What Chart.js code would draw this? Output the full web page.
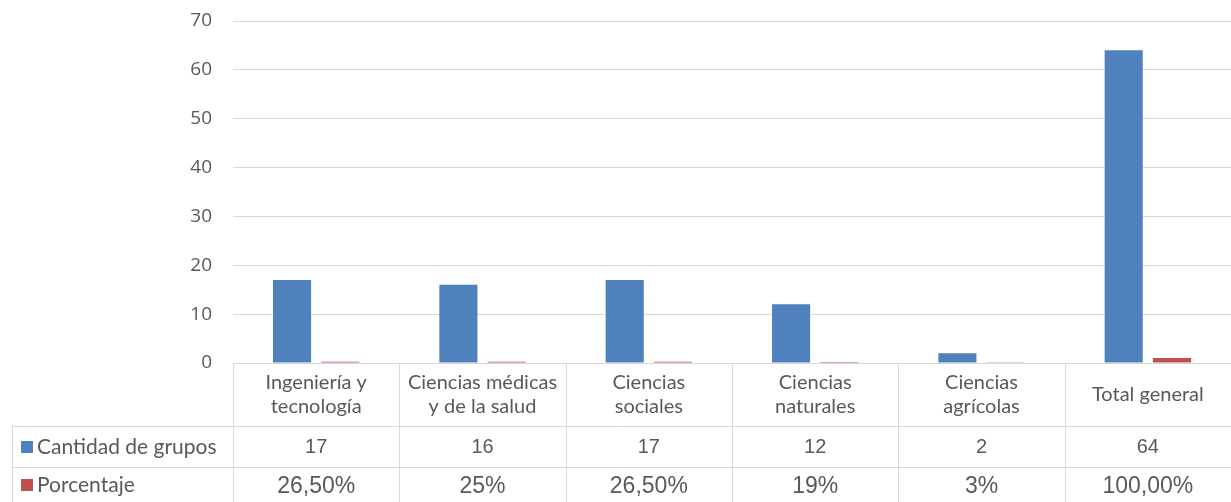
<!DOCTYPE html>
<html>
<head>
<meta charset="utf-8">
<script src="https://cdn.jsdelivr.net/npm/chart.js@4/dist/chart.umd.min.js"></script>
<style>
    body { margin: 0; background: #ffffff; }
    #chart { display: block; }
</style>
</head>
<body>
<canvas id="chart" width="1231" height="502"></canvas>
<script>
// --- Data ---
const categories = [
    ['Ingeniería y', 'tecnología'],
    ['Ciencias médicas', 'y de la salud'],
    ['Ciencias', 'sociales'],
    ['Ciencias', 'naturales'],
    ['Ciencias', 'agrícolas'],
    ['Total general']
];
const seriesNames = ['Cantidad de grupos', 'Porcentaje'];
const cantidadGrupos = [17, 16, 17, 12, 2, 64];
const porcentaje = [0.265, 0.25, 0.265, 0.19, 0.03, 1];
const porcentajeLabels = ['26,50%', '25%', '26,50%', '19%', '3%', '100,00%'];
const yTicks = [0, 10, 20, 30, 40, 50, 60, 70];

const seriesColors = ['#4f81bd', '#c0504d'];
const gridColor = '#d9d9d9';
const textColor = '#595959';

// --- Data table drawn under the plot (like Excel) ---
const dataTablePlugin = {
    id: 'dataTable',
    afterDraw(chart) {
        const ctx = chart.ctx;
        const x = chart.scales.x;
        const area = chart.chartArea;
        const n = categories.length;
        const colW = (area.right - area.left) / n;
        const tableLeft = 12;
        const headerBottom = 426;
        const row2Bottom = 467;
        const bottom = chart.height;

        ctx.save();
        ctx.strokeStyle = gridColor;
        ctx.lineWidth = 1;

        // vertical lines between categories
        for (let i = 0; i <= n; i++) {
            const px = Math.round(area.left + i * colW) + 0.5;
            ctx.beginPath();
            ctx.moveTo(px, area.bottom);
            ctx.lineTo(px, bottom);
            ctx.stroke();
        }
        // legend column left border
        ctx.beginPath();
        ctx.moveTo(tableLeft + 0.5, headerBottom);
        ctx.lineTo(tableLeft + 0.5, bottom);
        ctx.stroke();

        // horizontal row lines
        [headerBottom, row2Bottom].forEach(y => {
            ctx.beginPath();
            ctx.moveTo(tableLeft, y + 0.5);
            ctx.lineTo(area.right, y + 0.5);
            ctx.stroke();
        });

        ctx.fillStyle = textColor;
        ctx.textAlign = 'center';
        ctx.textBaseline = 'middle';

        // header: category names
        ctx.font = '20px Lato, "Open Sans", sans-serif';
        categories.forEach((lines, i) => {
            const cx = x.getPixelForValue(i);
            const midY = (area.bottom + headerBottom) / 2;
            const lh = 24;
            lines.forEach((line, j) => {
                const y = midY + (j - (lines.length - 1) / 2) * lh;
                ctx.fillText(line, cx, y);
            });
        });

        // row values
        ctx.font = '20px "Liberation Sans", Arial, sans-serif';
        cantidadGrupos.forEach((v, i) => {
            ctx.fillText(String(v), x.getPixelForValue(i), (headerBottom + row2Bottom) / 2 + 1);
        });
        ctx.font = '23px "Liberation Sans", Arial, sans-serif';
        porcentajeLabels.forEach((t, i) => {
            ctx.fillText(t, x.getPixelForValue(i), (row2Bottom + bottom) / 2 + 2);
        });

        // legend keys + series names
        ctx.textAlign = 'left';
        ctx.font = '21px Lato, "Open Sans", sans-serif';
        const rows = [(headerBottom + row2Bottom) / 2, (row2Bottom + bottom) / 2];
        seriesNames.forEach((name, k) => {
            const y = rows[k];
            ctx.fillStyle = seriesColors[k];
            ctx.fillRect(21, Math.round(y - 6), 12, 12);
            ctx.fillStyle = textColor;
            ctx.fillText(name, 37, y + 1);
        });
        ctx.restore();
    }
};

const ctx = document.getElementById('chart');
new Chart(ctx, {
    type: 'bar',
    data: {
        labels: categories.map(c => c.join(' ')),
        datasets: [
            {
                label: seriesNames[0],
                data: cantidadGrupos,
                backgroundColor: seriesColors[0],
                categoryPercentage: 0.58,
                barPercentage: 0.79
            },
            {
                label: seriesNames[1],
                data: porcentaje,
                backgroundColor: seriesColors[1],
                categoryPercentage: 0.58,
                barPercentage: 0.79
            }
        ]
    },
    options: {
        responsive: false,
        animation: false,
        layout: {
            padding: { top: 21, right: 0, bottom: 139, left: 0 }
        },
        plugins: {
            legend: { display: false },
            tooltip: { enabled: false }
        },
        scales: {
            x: {
                display: false
            },
            y: {
                min: 0,
                max: yTicks[yTicks.length - 1],
                afterFit(scale) {
                    scale.width = 233;
                    scale.paddingTop = 0;
                    scale.paddingBottom = 0;
                },
                afterBuildTicks(scale) { scale.ticks = yTicks.map(v => ({ value: v })); },
                border: { display: false },
                grid: { color: gridColor, drawTicks: false, lineWidth: 1 },
                ticks: {
                    padding: 21,
                    color: textColor,
                    font: { family: '"Open Sans", sans-serif', size: 19 }
                }
            }
        }
    },
    plugins: [dataTablePlugin]
});
</script>
</body>
</html>
